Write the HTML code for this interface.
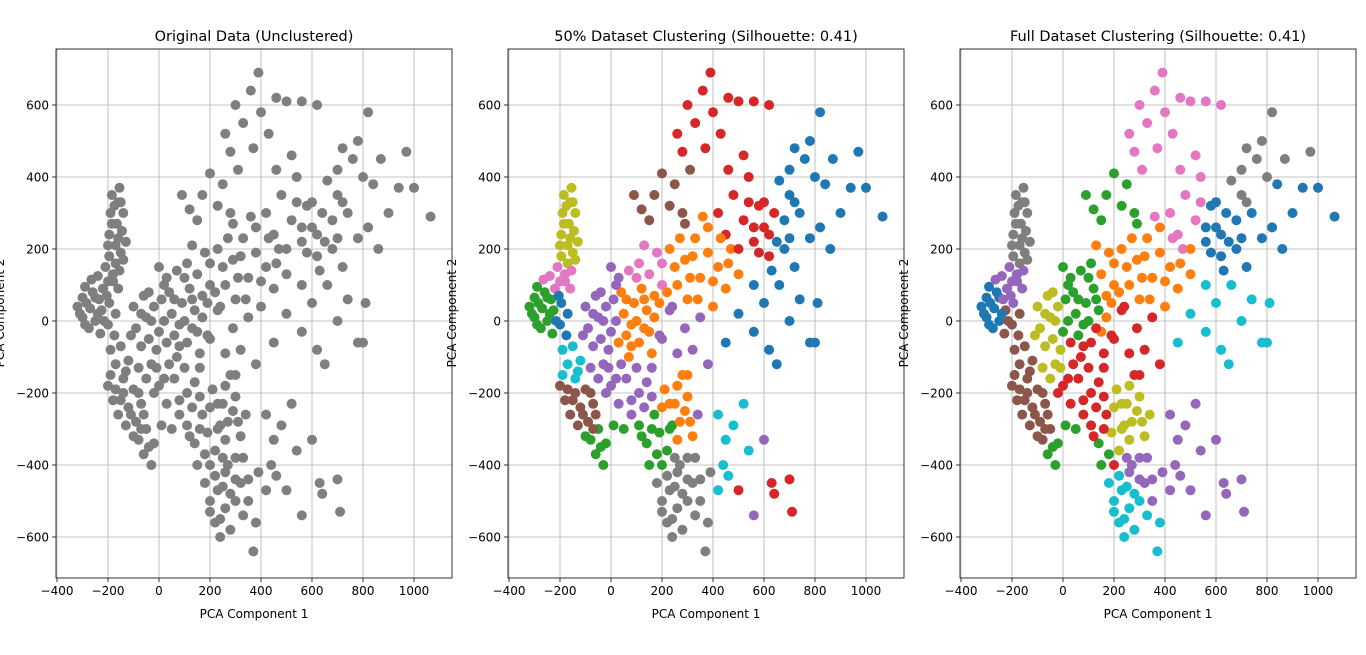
<!DOCTYPE html>
<html><head><meta charset="utf-8">
<style>
html,body{margin:0;padding:0;background:#fff;}
svg{display:block;font-family:"DejaVu Sans","Liberation Sans",sans-serif;}
</style></head>
<body>
<svg id="chart" width="1366" height="655" viewBox="0 0 1366 655" xmlns="http://www.w3.org/2000/svg"></svg>
<script>
// Shared point data [x, y] (PCA components)
const pointsX = [-320,-300,-300,-290,-275,-270,-265,-250,-250,-240,-230,-225,-220,-210,-200,-195,-180,-175,-170,
-195,-195,-190,-185,-170,-170,-165,-160,-155,-150,-145,-140,-130,
-190,-170,-150,-140,-120,-110,
-200,-180,-160,-140,-120,-100,-90,-70,-130,
-80,-60,-30,-20,-50,
-100,-90,-70,-60,-50,-40,-30,-20,-10,10,20,-80,-50,
40,50,60,70,90,100,110,120,140,150,160,170,30,
0,30,70,110,150,180,200,130,
0,30,60,80,110,140,10,50,
110,140,170,190,220,150,240,
210,250,270,300,320,280,340,
180,200,220,240,260,280,300,320,350,370,380,390,250,330,230,
420,450,480,520,440,500,540,600,630,640,700,710,560,420,460,
200,230,260,290,320,350,380,300,
220,250,270,300,320,350,380,400,420,450,470,500,360,280,
150,170,200,230,250,290,310,120,90,
260,300,330,360,390,400,430,460,500,560,620,280,370,
420,450,480,500,520,540,560,580,600,620,640,520,460,660,
700,720,760,800,780,820,840,870,700,740,780,820,860,900,940,970,1065,1000,680,720,660,600,560,620,700,740,780,810,500,450,560,650,800,
-180,-160,-185,-150,-175,-160,-140,-200,-155,-200,
-310,-285,-260,-240,-290,-215,-235,-205,
-150,-110,-190,-130,-170,-80,-60,-100,-40,-70,
-70,-30,-40,0,-10,20,60,80,130,100,80,130,170,190,190,40,100,-20,160,20,
80,130,160,120,160,200,230,260,290,200,180,220,270,300,250,200,260,300,240,280,330,350,310,230,260,
230,260,290,330,340,380,400,430,460,310,240,200,
560,620,600,540,650,680,700,720,580,630];
const pointsY = [40,10,65,95,-20,35,115,0,65,125,-35,30,90,150,-10,50,110,-40,20,
180,240,300,350,160,210,270,330,370,190,250,300,220,
-80,-120,-70,-160,-110,-40,
-180,-220,-260,-200,-240,-190,-280,-230,-290,
-330,-370,-400,-340,-300,
40,-20,-70,70,10,-50,-120,40,-80,60,0,-130,-160,
80,20,-40,-100,50,0,-60,90,30,-30,-90,70,-60,
150,120,140,160,130,190,100,210,
-180,-230,-160,-260,-200,-170,-290,-300,
-290,-340,-260,-310,-360,-400,-290,
-190,-230,-280,-210,-320,-150,-260,
-450,-500,-560,-600,-420,-480,-380,-450,-500,-640,-560,-420,-380,-540,-470,
-260,-330,-290,-230,-400,-470,-360,-330,-450,-480,-440,-530,-540,-470,-430,
-50,30,-90,-20,-80,10,-120,-150,
80,150,230,60,180,120,260,40,150,90,200,130,290,300,
280,350,410,320,380,270,420,310,350,
520,600,550,640,690,580,520,620,610,610,600,470,480,
300,240,350,200,280,400,220,320,260,180,300,460,420,390,
420,480,450,400,500,580,380,450,350,300,230,260,200,300,370,470,290,370,200,150,100,50,-30,-80,0,60,-60,50,20,-60,100,-120,-60,
130,90,270,330,320,230,170,210,140,110,
20,50,80,20,-10,0,60,70,
-220,-260,-150,-140,-190,-200,-260,-320,-350,-300,
20,0,80,-30,-130,100,60,-10,-20,120,-70,60,10,-40,50,-120,-130,-200,-130,-160,
-220,-240,-210,-320,-300,-240,-300,-330,-250,-400,-370,-430,-400,-440,-460,-530,-520,-500,-550,-580,-380,-440,-280,-230,-180,
200,100,170,230,60,190,110,230,160,120,40,160,
260,240,330,330,220,280,230,330,190,140];
// Cluster labels (tab10 index) for the 50% and full clusterings
const labels50 = [2,2,2,2,2,2,6,2,2,6,2,2,6,6,0,0,6,0,0,
8,8,8,8,8,8,8,8,8,8,8,8,8,
9,9,9,9,9,4,
5,5,5,5,5,5,5,5,5,
2,2,2,2,2,
4,4,4,4,4,4,4,4,4,4,4,4,4,
1,1,1,1,1,1,1,1,1,1,1,1,1,
4,4,6,6,6,6,6,6,
4,4,4,4,4,4,2,2,
2,2,2,2,2,2,2,
1,1,1,1,1,1,4,
7,7,7,7,7,7,7,7,7,7,7,7,7,7,7,
9,9,9,9,9,3,9,4,3,3,3,3,4,9,9,
4,4,4,4,4,4,4,1,
1,1,1,1,1,1,1,1,1,1,1,1,1,5,
5,5,5,5,5,5,5,5,5,
3,3,3,3,3,3,3,3,3,3,3,3,3,
3,3,3,3,3,3,3,3,3,3,3,3,3,0,
0,0,0,0,0,0,0,0,0,0,0,0,0,0,0,0,0,0,0,0,0,0,0,0,0,0,0,0,0,0,0,0,0,
6,6,8,8,8,8,8,8,6,6,
2,2,2,2,2,0,2,0,
5,5,9,9,5,5,5,2,2,5,
4,4,4,4,4,4,1,1,1,6,1,1,1,4,1,4,4,4,4,4,
4,4,4,2,2,1,2,1,1,2,2,7,7,7,7,7,7,7,7,7,7,7,1,1,1,
1,1,1,1,1,1,1,1,1,1,4,6,
3,3,3,3,0,0,0,0,3,0];
const labelsFull = [0,0,0,0,0,0,4,0,0,4,5,5,4,4,5,4,4,5,5,
7,7,7,7,7,7,7,7,7,7,7,7,7,
5,5,5,5,5,8,
5,5,5,5,5,5,5,5,5,
5,2,2,2,5,
8,8,8,8,8,8,8,8,8,2,2,8,8,
2,2,2,3,2,2,3,2,2,1,3,1,3,
2,2,2,2,1,1,1,1,
3,3,3,3,3,3,2,2,
3,2,3,8,8,2,8,
8,8,8,8,8,3,8,
9,9,9,9,4,9,4,4,4,9,9,4,4,9,9,
4,4,4,4,4,4,4,4,4,4,4,4,4,4,4,
3,3,3,3,3,3,3,3,
1,1,1,1,1,1,1,1,1,1,6,1,6,2,
2,2,2,2,2,2,6,2,2,
6,6,6,6,6,6,6,6,6,6,6,6,6,
6,6,6,1,6,6,0,0,0,0,0,6,6,7,
7,7,7,7,7,7,0,7,7,0,0,0,0,0,0,7,0,0,0,0,9,9,9,9,9,9,9,9,9,9,9,9,9,
4,4,7,7,7,7,7,7,4,4,
0,0,0,0,0,5,4,4,
5,5,5,5,5,5,5,5,2,5,
8,8,8,2,8,2,2,2,3,2,3,2,1,3,1,3,3,3,3,3,
3,3,3,3,3,8,8,8,8,3,2,9,4,4,9,9,9,9,9,9,4,4,8,8,8,
1,1,1,1,1,1,1,6,1,1,3,1,
0,0,0,6,0,0,0,7,0,0];
const xTicks = [-400,-200,0,200,400,600,800,1000];
const yTicks = [-600,-400,-200,0,200,400,600];
const titles = ["Original Data (Unclustered)","50% Dataset Clustering (Silhouette: 0.41)","Full Dataset Clustering (Silhouette: 0.41)"];
const palette = ["#1f77b4","#ff7f0e","#2ca02c","#d62728","#9467bd","#8c564b","#e377c2","#7f7f7f","#bcbd22","#17becf"];

const NS="http://www.w3.org/2000/svg";
const svg=document.getElementById('chart');
function mk(tag,attrs,parent){const e=document.createElementNS(NS,tag);for(const k in attrs)e.setAttribute(k,attrs[k]);(parent||svg).appendChild(e);return e;}
const panels=[{left:56,zero:159,name:'original'},{left:508,zero:611,name:'half'},{left:960,zero:1063,name:'full'}];
const TOP=49,BOT=578,W=396,KX=0.255,KY=0.36,Y0=321;
panels.forEach((p,pi)=>{
  const g=mk('g',{});
  
  
  const sx=x=>p.zero+x*KX, sy=y=>Y0-y*KY;
  xTicks.forEach(t=>{
    const X=sx(t); if(X<p.left-0.5||X>p.left+W)return;
    const l=mk('line',{x1:X,x2:X,y1:TOP,y2:BOT,stroke:'#b0b0b0','stroke-width':0.8},g);
    
    
    mk('line',{x1:X,x2:X,y1:BOT,y2:BOT+4,stroke:'#000','stroke-width':0.8},g);
    const tx=mk('text',{x:X,y:BOT+17,'font-size':12,'text-anchor':'middle',fill:'#000'},g);
    tx.textContent=(t<0?'\u2212'+(-t):t);
    
    
  });
  yTicks.forEach(t=>{
    const Y=sy(t);
    const l=mk('line',{x1:p.left,x2:p.left+W,y1:Y,y2:Y,stroke:'#b0b0b0','stroke-width':0.8},g);
    
    
    mk('line',{x1:p.left-4,x2:p.left,y1:Y,y2:Y,stroke:'#000','stroke-width':0.8},g);
    const ty=mk('text',{x:p.left-7,y:Y+4.5,'font-size':12,'text-anchor':'end',fill:'#000'},g);
    ty.textContent=(t<0?'\u2212'+(-t):t);
    
    
  });
  const pg=mk('g',{},g);
  
  
  for(let i=0;i<pointsX.length;i++){
    const lab = pi===0?7:(pi===1?labels50[i]:labelsFull[i]);
    const c=mk('circle',{cx:sx(pointsX[i]),cy:sy(pointsY[i]),r:5,fill:palette[lab]},pg);
    
    
  }
  const fr=mk('rect',{x:p.left,y:TOP,width:W,height:BOT-TOP,fill:'none',stroke:'#000','stroke-width':0.8},g);
  
  
  const ti=mk('text',{x:p.left+W/2,y:41,'font-size':14.5,'text-anchor':'middle',fill:'#000'},g);
  ti.textContent=titles[pi];
  
  
  const xl=mk('text',{x:p.left+W/2,y:618,'font-size':12,'text-anchor':'middle',fill:'#000'},g);
  xl.textContent='PCA Component 1';
  
  
  const yx=p.left-52;
  const yl=mk('text',{x:yx,y:313,'font-size':12,'text-anchor':'middle',fill:'#000',transform:'rotate(-90 '+yx+' 313)'},g);
  yl.textContent='PCA Component 2';
  
  
});
</script>
</body></html>
